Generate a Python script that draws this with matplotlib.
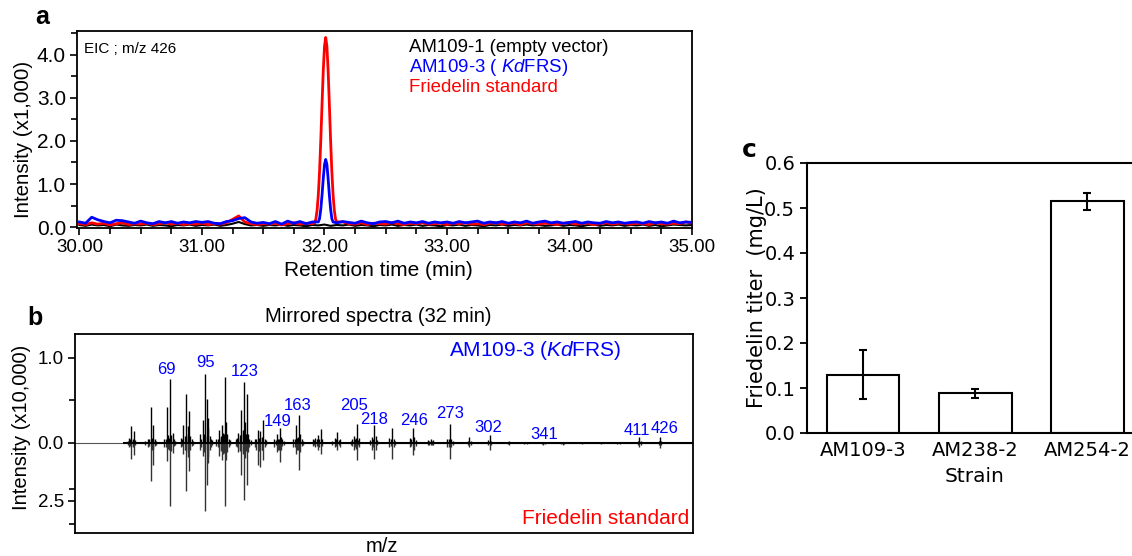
import numpy as np
import matplotlib
matplotlib.use("Agg")
import matplotlib.pyplot as plt
from matplotlib.ticker import MultipleLocator, FixedLocator

plt.rcParams['font.family'] = 'Liberation Sans'
plt.rcParams['mathtext.fontset'] = 'custom'
plt.rcParams['mathtext.it'] = 'Liberation Sans:italic'
plt.rcParams['mathtext.rm'] = 'Liberation Sans'

# ---- panel a: EIC m/z 426 (x1,000), baseline sampled every 0.05 min from 30.00 to 35.00
t_base = np.round(np.linspace(30.0, 35.0, 101), 2)

eic_empty = [0.05, 0.03, 0.06, 0.04, 0.05, 0.02, 0.06, 0.04, 0.03, 0.05,
             0.04, 0.06, 0.03, 0.05, 0.04, 0.02, 0.05, 0.04, 0.06, 0.03,
             0.05, 0.04, 0.06, 0.03, 0.05, 0.08, 0.12, 0.07, 0.04, 0.05,
             0.03, 0.05, 0.04, 0.06, 0.03, 0.05, 0.04, 0.02, 0.05, 0.04,
             0.06, 0.03, 0.05, 0.04, 0.06, 0.03, 0.05, 0.04, 0.02, 0.05,
             0.04, 0.06, 0.03, 0.05, 0.04, 0.06, 0.03, 0.05, 0.04, 0.02,
             0.05, 0.04, 0.06, 0.03, 0.05, 0.04, 0.02, 0.05, 0.04, 0.06,
             0.03, 0.05, 0.04, 0.06, 0.04, 0.05, 0.03, 0.04, 0.06, 0.03,
             0.05, 0.04, 0.02, 0.05, 0.06, 0.03, 0.05, 0.04, 0.06, 0.03,
             0.05, 0.04, 0.06, 0.03, 0.05, 0.02, 0.04, 0.06, 0.05, 0.04,
             0.05]

eic_kdfrs = [0.12, 0.09, 0.23, 0.17, 0.13, 0.10, 0.16, 0.15, 0.12, 0.09,
             0.14, 0.10, 0.08, 0.13, 0.10, 0.13, 0.09, 0.12, 0.10, 0.13,
             0.11, 0.13, 0.09, 0.08, 0.13, 0.15, 0.20, 0.22, 0.12, 0.09,
             0.11, 0.08, 0.13, 0.07, 0.14, 0.09, 0.13, 0.08, 0.12, 0.10,
             0.10, 0.10, 0.10, 0.13, 0.11, 0.09, 0.14, 0.10, 0.08, 0.12,
             0.13, 0.10, 0.14, 0.09, 0.12, 0.10, 0.13, 0.09, 0.12, 0.10,
             0.12, 0.09, 0.13, 0.10, 0.12, 0.14, 0.09, 0.12, 0.10, 0.13,
             0.09, 0.12, 0.10, 0.14, 0.09, 0.12, 0.14, 0.10, 0.12, 0.09,
             0.11, 0.13, 0.09, 0.12, 0.10, 0.09, 0.13, 0.10, 0.12, 0.09,
             0.11, 0.12, 0.09, 0.13, 0.10, 0.12, 0.09, 0.14, 0.10, 0.12,
             0.11]

eic_std = [0.08, 0.06, 0.10, 0.07, 0.09, 0.05, 0.08, 0.10, 0.06, 0.08,
           0.07, 0.09, 0.06, 0.08, 0.10, 0.07, 0.09, 0.06, 0.08, 0.07,
           0.09, 0.06, 0.08, 0.07, 0.10, 0.18, 0.26, 0.12, 0.08, 0.06,
           0.08, 0.07, 0.09, 0.05, 0.08, 0.10, 0.07, 0.09, 0.08, 0.08,
           0.08, 0.08, 0.09, 0.12, 0.08, 0.07, 0.10, 0.06, 0.09, 0.08,
           0.07, 0.10, 0.08, 0.06, 0.09, 0.08, 0.10, 0.07, 0.08, 0.09,
           0.06, 0.09, 0.08, 0.10, 0.07, 0.08, 0.06, 0.09, 0.10, 0.07,
           0.08, 0.09, 0.06, 0.10, 0.08, 0.07, 0.09, 0.08, 0.06, 0.09,
           0.10, 0.07, 0.08, 0.09, 0.06, 0.08, 0.10, 0.07, 0.09, 0.08,
           0.07, 0.09, 0.08, 0.06, 0.10, 0.08, 0.07, 0.09, 0.08, 0.12,
           0.09]

# peak apex region, sampled every 0.01 min
kdfrs_peak_t = [31.95, 31.96, 31.97, 31.98, 31.99, 32.00, 32.01, 32.02, 32.03, 32.04, 32.05, 32.06, 32.07]
kdfrs_peak_v = [0.12, 0.20, 0.42, 0.74, 1.12, 1.45, 1.57, 1.45, 1.12, 0.74, 0.42, 0.20, 0.12]
std_peak_t = [31.92, 31.93, 31.94, 31.95, 31.96, 31.97, 31.98, 31.99, 32.00, 32.01,
              32.02, 32.03, 32.04, 32.05, 32.06, 32.07, 32.08, 32.09, 32.10]
std_peak_v = [0.10, 0.19, 0.40, 0.76, 1.30, 2.02, 2.84, 3.62, 4.19, 4.40,
              4.19, 3.62, 2.84, 2.02, 1.30, 0.76, 0.40, 0.19, 0.12]

# ---- panel b: mirrored spectra at 32 min (x10,000)
mz = [39, 41, 42, 43, 53, 55, 56, 57, 65, 67, 68, 69, 70, 71, 77, 79, 80, 81, 82, 83, 84,
      91, 93, 94, 95, 96, 97, 98, 105, 106, 107, 108, 109, 110, 111,
      119, 120, 121, 122, 123, 124, 125, 126, 131, 133, 135, 136, 137,
      145, 147, 148, 149, 150, 159, 161, 162, 163, 164, 173, 175, 177, 179,
      189, 191, 193, 203, 204, 205, 207, 216, 218, 219, 229, 231, 232,
      244, 246, 247, 257, 259, 261, 271, 273, 274, 287, 302, 316, 341, 355, 395, 411, 426]
int_sample = [0.06, 0.20, 0.05, 0.14, 0.05, 0.42, 0.06, 0.21, 0.05, 0.42, 0.09, 0.75, 0.09, 0.12,
              0.06, 0.21, 0.08, 0.58, 0.20, 0.38, 0.08,
              0.11, 0.27, 0.10, 0.81, 0.52, 0.29, 0.08, 0.15, 0.06, 0.21, 0.12, 0.78, 0.24, 0.10,
              0.12, 0.06, 0.39, 0.15, 0.72, 0.24, 0.58, 0.10, 0.05, 0.15, 0.14, 0.06, 0.27,
              0.05, 0.11, 0.05, 0.17, 0.07, 0.05, 0.21, 0.06, 0.33, 0.10, 0.04, 0.06, 0.09, 0.16,
              0.06, 0.13, 0.05, 0.08, 0.04, 0.22, 0.06, 0.07, 0.21, 0.08, 0.06, 0.18, 0.04,
              0.06, 0.18, 0.07, 0.03, 0.04, 0.03, 0.04, 0.22, 0.05, 0.07, 0.09, 0.02, 0.01, 0.01, 0.01, 0.07, 0.07]
int_standard = [0.17, 0.69, 0.20, 0.52, 0.20, 1.64, 0.30, 0.95, 0.20, 0.78, 0.26, 2.72, 0.34, 0.43,
                0.20, 0.50, 0.30, 2.07, 0.60, 1.20, 0.30,
                0.30, 0.56, 0.40, 2.93, 1.81, 0.86, 0.30, 0.56, 0.30, 0.73, 0.50, 2.72, 0.73, 0.40,
                0.40, 0.30, 1.38, 0.50, 2.46, 0.65, 1.81, 0.40, 0.20, 0.95, 1.06, 0.30, 0.75,
                0.20, 0.39, 0.30, 0.82, 0.30, 0.20, 0.50, 0.30, 1.17, 0.40, 0.15, 0.20, 0.30, 0.47,
                0.20, 0.30, 0.20, 0.30, 0.20, 0.75, 0.20, 0.30, 0.68, 0.30, 0.20, 0.70, 0.20,
                0.20, 0.53, 0.30, 0.10, 0.10, 0.10, 0.20, 0.68, 0.20, 0.20, 0.32, 0.10, 0.10, 0.08, 0.05, 0.17, 0.24]

# small fragment lines that fill out each cluster
minor_mz = [38.5, 40, 42.5, 44, 51, 54, 56.5, 58, 59, 66, 68.5, 72, 73, 78, 80.5, 82.5, 85, 86,
            92, 94.5, 96.5, 99, 100, 103, 104, 106.5, 108.5, 112, 113, 117, 118, 120.5, 122.5,
            124.5, 127, 128, 132, 134, 136.5, 138, 139, 146, 148.5, 151, 152, 160, 162.5, 165,
            166, 174, 176, 178, 180, 187, 190, 192, 201, 202, 204.5, 206, 215, 217, 220, 230,
            233, 245, 248, 258, 260, 272, 275, 286, 288, 301, 303, 315, 327, 329, 340, 342,
            354, 356, 369, 383, 397, 410, 412, 425, 427]
minor_sample = [0.02, 0.04, 0.03, 0.03, 0.02, 0.04, 0.05, 0.04, 0.02, 0.05, 0.06, 0.04, 0.02, 0.04,
                0.07, 0.10, 0.04, 0.02, 0.05, 0.08, 0.18, 0.05, 0.03, 0.04, 0.05, 0.08, 0.10, 0.05,
                0.03, 0.04, 0.06, 0.09, 0.11, 0.10, 0.05, 0.03, 0.04, 0.06, 0.07, 0.05, 0.03, 0.03,
                0.05, 0.04, 0.02, 0.05, 0.07, 0.04, 0.02, 0.03, 0.04, 0.05, 0.04, 0.02, 0.05, 0.03,
                0.02, 0.04, 0.06, 0.03, 0.03, 0.05, 0.03, 0.04, 0.02, 0.04, 0.03, 0.02, 0.02, 0.05,
                0.02, 0.02, 0.02, 0.03, 0.02, 0.01, 0.01, 0.01, 0.01, 0.01, 0.01, 0.01, 0.01, 0.01,
                0.01, 0.02, 0.02, 0.02, 0.02]
minor_standard = [0.08, 0.15, 0.12, 0.10, 0.08, 0.15, 0.25, 0.15, 0.08, 0.20, 0.30, 0.15, 0.08, 0.15,
                  0.30, 0.40, 0.15, 0.08, 0.20, 0.30, 0.60, 0.20, 0.10, 0.15, 0.20, 0.35, 0.45, 0.20,
                  0.10, 0.15, 0.20, 0.35, 0.40, 0.35, 0.20, 0.10, 0.30, 0.35, 0.30, 0.20, 0.10, 0.10,
                  0.30, 0.15, 0.08, 0.20, 0.30, 0.15, 0.08, 0.10, 0.15, 0.20, 0.15, 0.08, 0.15, 0.10,
                  0.08, 0.15, 0.25, 0.10, 0.10, 0.20, 0.10, 0.15, 0.08, 0.15, 0.12, 0.08, 0.08, 0.20,
                  0.08, 0.08, 0.08, 0.10, 0.08, 0.05, 0.05, 0.05, 0.05, 0.05, 0.05, 0.05, 0.05, 0.05,
                  0.05, 0.08, 0.08, 0.08, 0.08]

labelled_mz = [69, 95, 123, 149, 163, 205, 218, 246, 273, 302, 341, 411, 426]
label_x = [66.8, 95, 123.8, 147.8, 162.3, 203.2, 218.1, 247.2, 273.4, 301, 341.5, 408.9, 429.4]
label_y = [0.86, 0.94, 0.84, 0.25, 0.435, 0.435, 0.27, 0.26, 0.35, 0.185, 0.10, 0.145, 0.17]

# ---- panel c: titers
strains = ['AM109-3', 'AM238-2', 'AM254-2']
titer = [0.130, 0.088, 0.515]
titer_err = [0.054, 0.010, 0.019]

W, H = 1132, 556
fig = plt.figure(figsize=(W / 100, H / 100), dpi=100)


def box(l, t, r, b):
    return [l / W, 1 - b / H, (r - l) / W, (b - t) / H]


def ftxt(x, y, s, **kw):
    kw.setdefault('ha', 'center')
    kw.setdefault('va', 'center')
    fig.text(x / W, 1 - y / H, s, **kw)


def trace(base, pk_t=None, pk_v=None):
    base = np.array(base)
    if pk_t is None:
        return t_base, base
    pk_t = np.array(pk_t)
    keep = (t_base < pk_t.min() - 0.005) | (t_base > pk_t.max() + 0.005)
    t = np.concatenate([t_base[keep], pk_t])
    v = np.concatenate([base[keep], pk_v])
    o = np.argsort(t)
    return t[o], v[o]


# panel a
ax_a = fig.add_axes(box(77, 31, 692, 228))
ax_a.plot(*trace(eic_empty), color='black', lw=1.5, zorder=1)
ax_a.plot(*trace(eic_std, std_peak_t, std_peak_v), color='#ff0000', lw=2.0, zorder=2)
ax_a.plot(*trace(eic_kdfrs, kdfrs_peak_t, kdfrs_peak_v), color='#0000ff', lw=2.0, zorder=3)
ax_a.set_xlim(29.98, 35.0)
ax_a.set_ylim(-0.02, 4.55)
ax_a.set_xticks([30, 31, 32, 33, 34, 35])
ax_a.set_xticklabels(['30.00', '31.00', '32.00', '33.00', '34.00', '35.00'], fontsize=13.5)
ax_a.xaxis.set_minor_locator(MultipleLocator(0.25))
ax_a.set_yticks([0, 1, 2, 3, 4])
ax_a.set_yticklabels(['0.0', '1.0', '2.0', '3.0', '4.0'], fontsize=15)
ax_a.yaxis.set_minor_locator(MultipleLocator(0.5))
ax_a.tick_params(which='major', direction='out', length=5, width=1.2, pad=3)
ax_a.tick_params(which='minor', direction='out', length=4, width=1.2)
for s in ax_a.spines.values():
    s.set_linewidth(1.3)
ax_a.text(0.012, 0.91, 'EIC ; m/z 426', transform=ax_a.transAxes, fontsize=11, ha='left', va='center')
ftxt(409, 47, 'AM109-1 (empty vector)', color='black', fontsize=13.4, ha='left')
ftxt(409, 67, r'AM109-3 ( $\mathit{Kd}$FRS)', color='#0000ff', fontsize=13.4, ha='left')
ftxt(409, 88, 'Friedelin standard', color='#ff0000', fontsize=13.4, ha='left')
ftxt(378, 270, 'Retention time (min)', fontsize=15)
ftxt(24, 139, 'Intensity (x1,000)', fontsize=14.8, rotation=90)
ftxt(42, 17, 'a', fontsize=18, fontweight='bold')

# panel b
s_bot = 23.2 / 85
ax_b = fig.add_axes(box(75, 334, 693, 533))
ax_b.axhline(0, color='#555555', lw=0.8, zorder=1)
ax_b.hlines(0, 35, 450, color='black', lw=1.5, zorder=3)
ax_b.vlines(minor_mz, 0, minor_sample, color='black', lw=1.0, zorder=2)
ax_b.vlines(minor_mz, -np.array(minor_standard) * s_bot, 0, color='#333333', lw=1.0, zorder=2)
ax_b.vlines(mz, 0, int_sample, color='black', lw=1.0, zorder=2)
ax_b.vlines(mz, -np.array(int_standard) * s_bot, 0, color='#333333', lw=1.0, zorder=2)
for lx, ly, m in zip(label_x, label_y, labelled_mz):
    ax_b.text(lx, ly, str(m), color='#0000ff', fontsize=12, ha='center', va='center')
ax_b.set_xlim(0, 450)
ax_b.set_ylim(-1.06, 1.28)
ax_b.set_xticks([])
ax_b.set_yticks([1.0, 0.0, -2.5 * s_bot])
ax_b.set_yticklabels(['1.0', '0.0', '2.5'], fontsize=13.5)
ax_b.yaxis.set_minor_locator(FixedLocator([0.5, -2.0 * s_bot, -3.5 * s_bot]))
ax_b.tick_params(which='major', direction='out', length=5, width=1.2, pad=3)
ax_b.tick_params(which='minor', direction='out', length=4, width=1.2)
for s in ax_b.spines.values():
    s.set_linewidth(1.3)
ftxt(535, 350, r'AM109-3 ($\mathit{Kd}$FRS)', color='#0000ff', fontsize=15)
ftxt(689, 518, 'Friedelin standard', color='#ff0000', fontsize=15, ha='right')
ftxt(378, 316, 'Mirrored spectra (32 min)', fontsize=14.5)
ftxt(382, 547, 'm/z', fontsize=14.5)
ftxt(22, 427, 'Intensity (x10,000)', fontsize=14.5, rotation=90)
ftxt(35, 318, 'b', fontsize=18, fontweight='bold')

# panel c
ax_c = fig.add_axes(box(807, 163, 1132, 433))
x = np.arange(len(strains))
ax_c.bar(x, titer, width=0.65, color='white', edgecolor='black', linewidth=1.5,
         yerr=titer_err, capsize=3, error_kw=dict(elinewidth=1.5, capthick=1.5, ecolor='black'))
ax_c.set_xlim(-0.5, 2.4)
ax_c.set_ylim(0, 0.6)
ax_c.set_xticks(x)
ax_c.set_xticklabels(strains, family='DejaVu Sans', fontsize=14)
ax_c.set_yticks([0, 0.1, 0.2, 0.3, 0.4, 0.5, 0.6])
ax_c.set_yticklabels(['0.0', '0.1', '0.2', '0.3', '0.4', '0.5', '0.6'], family='DejaVu Sans', fontsize=14)
ax_c.tick_params(axis='y', direction='out', length=5, width=1.3)
ax_c.tick_params(axis='x', length=0, pad=6)
ax_c.spines['right'].set_visible(False)
for s in ['left', 'top', 'bottom']:
    ax_c.spines[s].set_linewidth(1.5)
ftxt(757, 298, 'Friedelin titer  (mg/L)', family='DejaVu Sans', fontsize=15, rotation=90)
ftxt(975, 476, 'Strain', family='DejaVu Sans', fontsize=14.5)
ftxt(749, 150, 'c', family='DejaVu Sans', fontsize=18, fontweight='bold')

fig.savefig('out.png', dpi=100)
